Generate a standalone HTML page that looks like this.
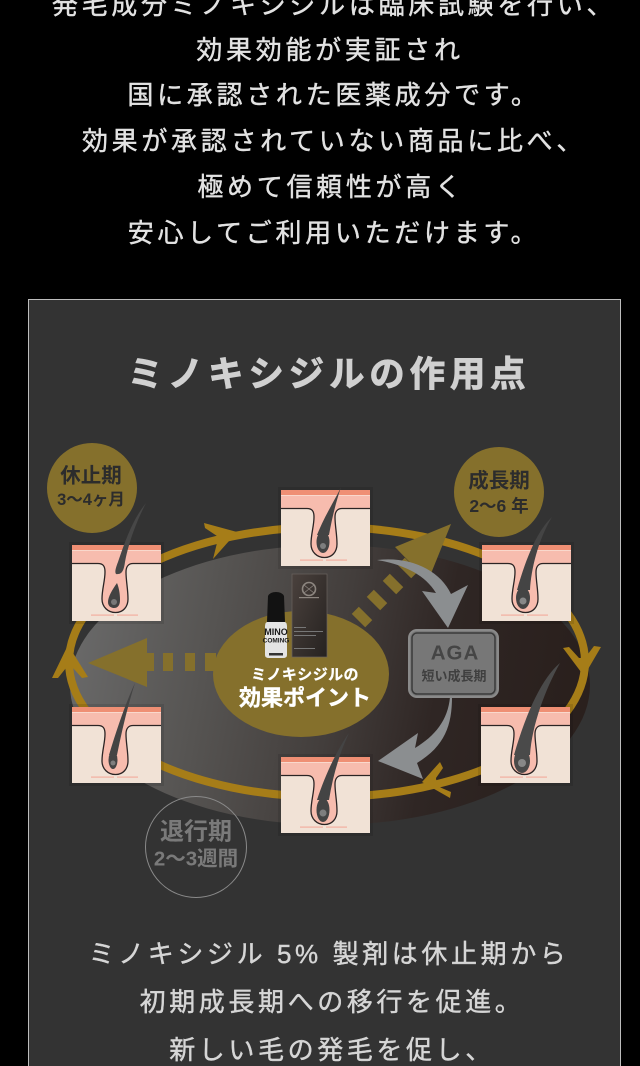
<!DOCTYPE html>
<html lang="ja"><head><meta charset="utf-8"><style>
html,body{margin:0;padding:0;background:#000;width:640px;height:1066px;overflow:hidden}
svg{display:block;filter:blur(.3px)}
text{font-family:"Liberation Sans","Noto Sans CJK JP",sans-serif;text-anchor:middle}
.t{font-size:26px;letter-spacing:3.7px;fill:#e2e2e2;stroke:#e2e2e2;stroke-width:.4px;dominant-baseline:central}
.b{font-size:26px;letter-spacing:3.6px;fill:#d6d6d6;stroke:#d6d6d6;stroke-width:.4px;dominant-baseline:central}
.c{dominant-baseline:central;font-weight:700}
</style></head><body>
<svg width="640" height="1066" viewBox="0 0 640 1066" xmlns="http://www.w3.org/2000/svg">
<defs>
<linearGradient id="eg" x1="0" y1="0" x2="1" y2="0.1">
<stop offset="0" stop-color="#6c6c6c"/><stop offset=".3" stop-color="#565452"/><stop offset=".55" stop-color="#433e3c"/><stop offset=".75" stop-color="#2f2624"/><stop offset="1" stop-color="#2a201d"/>
</linearGradient>
<linearGradient id="bx" x1="0" y1="0" x2="1" y2="1"><stop offset="0" stop-color="#4a413d"/><stop offset="1" stop-color="#262220"/></linearGradient>
<g id="tile">
<rect x="-3" y="-3" width="95" height="82" fill="#000" opacity=".1"/>
<rect width="89" height="76" fill="#f1e2d6"/>
<rect width="89" height="19" fill="#f7bcae"/>
<rect width="89" height="5" fill="#ef8f74"/>
<rect y="5" width="89" height="1" fill="#f9d8cc"/>
<path d="M0 18.500H26C31 18.500 33 21 33 27C33 36 30 44 30 54C30 62 36 67.500 43.500 67.500C51 67.500 56 62 56 54C56 44 54 36 54 27C54 21 57 18.500 61 18.500H89V16H0Z" fill="#f7bcae"/>
<path d="M0 18.500H26C31 18.500 33 21 33 27C33 36 30 44 30 54C30 62 36 67.500 43.500 67.500C51 67.500 56 62 56 54C56 44 54 36 54 27C54 21 57 18.500 61 18.500H89" fill="none" stroke="#2b2424" stroke-width="1.300"/>
<rect x="19" y="69.500" width="23" height="1.200" fill="#f2aea0"/><rect x="45" y="69.500" width="21" height="1.200" fill="#f2aea0"/>
</g>
</defs>
<rect width="640" height="1066" fill="#000"/>
<text class="t" x="334" y="5">発毛成分ミノキシジルは臨床試験を行い、</text>
<text class="t" x="330" y="50">効果効能が実証され</text>
<text class="t" x="334" y="95">国に承認された医薬成分です。</text>
<text class="t" x="334" y="141">効果が承認されていない商品に比べ、</text>
<text class="t" x="331" y="187">極めて信頼性が高く</text>
<text class="t" x="334" y="233">安心してご利用いただけます。</text>

<rect x="28.500" y="299.500" width="592" height="780" fill="#333333" stroke="#bdbdbd" stroke-width="1"/>
<text x="329" y="374" font-size="35.500" font-weight="700" letter-spacing="4.800" fill="#d0d0d0" stroke="#d0d0d0" stroke-width=".8" dominant-baseline="central">ミノキシジルの作用点</text>

<!-- dark ellipse -->
<ellipse cx="330" cy="685" rx="260" ry="140" fill="url(#eg)"/>
<!-- gold ring -->
<ellipse cx="327" cy="662" rx="258" ry="135" fill="none" stroke="#a67d18" stroke-width="8"/>
<!-- ring arrowheads -->
<g fill="#a67d18">
<path d="M204 523L237 532L213 559L217 543L217 536L205 528Z"/>
<path d="M563 648L569 647L579 658L585 658L594 646L601 647L584 676Z"/>
<path d="M422 782L440 762L443 768L436 778L437 786L451 792L450 798Z"/>
<path d="M68 645L88 677L82 678L73 668L66 668L58 678L52 678Z"/>
</g>

<!-- center ellipse -->
<ellipse cx="301" cy="674" rx="88" ry="63" fill="#85702c"/>
<!-- dashed arrows -->
<g fill="#85702c">
<path d="M88 663L147 638V687Z"/>
<rect x="144" y="653" width="10" height="18"/><rect x="163" y="653" width="10" height="18"/><rect x="185" y="653" width="10" height="18"/><rect x="205" y="653" width="11" height="18"/>
<path d="M451 524L395 547L428 581Z"/>
<g transform="rotate(-45 408 568)"><rect x="403" y="558.500" width="10" height="19"/></g>
<g transform="rotate(-45 393 584)"><rect x="388" y="574.500" width="10" height="19"/></g>
<g transform="rotate(-45 377 600)"><rect x="372" y="590.500" width="10" height="19"/></g>
<g transform="rotate(-45 362 617)"><rect x="357" y="607.500" width="10" height="19"/></g>
</g>

<!-- gray arrows -->
<g fill="#8b8e90">
<path d="M377 560C405 565 425 575 436 593L422 591L448 628L468 585L451 594C440 570 410 556 377 560Z"/>
<path d="M450 697C448 720 435 736 415 748L418 733L378 761L423 779L417 763C445 746 452 725 452 697Z"/>
</g>
<!-- AGA box -->
<rect x="409" y="630" width="89" height="67" rx="8" fill="#7a7a7a" stroke="#8a8a8a" stroke-width="2"/>
<rect x="412" y="633" width="83" height="61" rx="5" fill="#777" stroke="#3a3a3a" stroke-width="1.500"/>
<text class="c" x="455" y="653" font-size="20.500" letter-spacing="1" fill="#454545" style="font-family:'Liberation Sans',sans-serif">AGA</text>
<text class="c" x="454" y="676" font-size="13" fill="#3f3f3f">短い成長期</text>

<!-- tiles -->
<use href="#tile" x="72" y="545"/>
<path d="M146 503C135 517 128 532 118 562C114 572 115 575 118 574C122 574 124 570 125 562C128 545 136 522 146 503Z" fill="#474747"/>
<path d="M117 583C112 590 108 597 108 602C108 607 112 608 114 608C118 608 120 605 120 600C120 594 119 588 117 583Z" fill="#424242"/>
<circle cx="114" cy="602" r="3" fill="#787878"/>

<use href="#tile" x="281" y="490"/>
<path d="M341 487C335 500 325 515 317 535L329 535C332 518 336 502 341 487Z" fill="#444"/>
<ellipse cx="323" cy="542" rx="6.500" ry="11" fill="#444"/>
<circle cx="323" cy="546" r="3" fill="#7e7e7e"/>

<use href="#tile" x="482" y="545"/>
<path d="M552 517C538 530 527 555 517 590L530 590C531 570 538 540 552 517Z" fill="#444"/>
<ellipse cx="523" cy="598" rx="7" ry="11" fill="#444"/>
<circle cx="523" cy="601" r="3.500" fill="#888"/>

<use href="#tile" x="481" y="707"/>
<path d="M560 663C543 677 527 710 514 755L530 755C532 725 545 690 560 663Z" fill="#4a4a4a"/>
<ellipse cx="522" cy="761" rx="8" ry="12" fill="#4a4a4a"/>
<circle cx="522" cy="763" r="4" fill="#888"/>

<use href="#tile" x="72" y="707"/>
<path d="M135 683C127 700 118 725 109 755L117 755C122 730 128 705 135 683Z" fill="#444"/>
<ellipse cx="113" cy="760" rx="4.500" ry="9" fill="#444"/>
<circle cx="113" cy="763" r="2.500" fill="#7e7e7e"/>

<use href="#tile" x="281" y="757"/>
<path d="M349 733C338 748 325 775 317 800L329 800C333 775 340 752 349 733Z" fill="#444"/>
<ellipse cx="323" cy="810" rx="6.500" ry="12" fill="#444"/>
<circle cx="323" cy="813" r="3.500" fill="#7e7e7e"/>

<!-- product -->
<rect x="292" y="574" width="35" height="83" fill="url(#bx)" stroke="#6a635e" stroke-width=".7"/>
<circle cx="309" cy="589" r="6.500" fill="none" stroke="#8d8680" stroke-width="1.600"/>
<path d="M304 585L314 593M304 593L314 585" stroke="#8d8680" stroke-width=".8"/>
<rect x="299" y="597" width="20" height="1.200" fill="#8d8680"/>
<rect x="294" y="627" width="12" height="1" fill="#777"/><rect x="294" y="631" width="29" height="1" fill="#777"/><rect x="294" y="635" width="22" height="1" fill="#777"/><rect x="294" y="648" width="21" height="1" fill="#777"/>
<path d="M265 626Q265 622 269 621H283Q287 622 287 626V655Q287 658 283 658H269Q265 658 265 655Z" fill="#e4e4e4"/>
<path d="M267 622L268 596Q270 592 276 592Q282 592 284 596L285 622Z" fill="#121212"/>
<text x="276" y="632" font-size="9" font-weight="700" fill="#1a1a1a" dominant-baseline="central" style="font-family:'Liberation Sans',sans-serif">MINO</text>
<text x="276" y="641" font-size="6.500" font-weight="700" fill="#1a1a1a" dominant-baseline="central" style="font-family:'Liberation Sans',sans-serif">COMING</text>
<rect x="269" y="653" width="14" height="2.500" fill="#333"/>

<text class="c" x="305" y="675" font-size="15" letter-spacing=".4" fill="#fff" stroke="#fff" stroke-width=".3">ミノキシジルの</text>
<text class="c" x="305" y="698" font-size="22" fill="#fff" stroke="#fff" stroke-width=".4">効果ポイント</text>

<!-- badges -->
<circle cx="92" cy="488" r="45" fill="#85702c"/>
<text class="c" x="91" y="476" font-size="20.500" fill="#2c2c2c">休止期</text>
<text class="c" x="91" y="500" font-size="16.500" fill="#2c2c2c">3〜4ヶ月</text>
<circle cx="499" cy="492" r="45" fill="#85702c"/>
<text class="c" x="499" y="481" font-size="20.500" fill="#2c2c2c">成長期</text>
<text class="c" x="499" y="506" font-size="17.500" fill="#2c2c2c">2〜6 年</text>
<circle cx="196" cy="847" r="50.500" fill="none" stroke="#8a8a8a" stroke-width="1"/>
<text class="c" x="196" y="832" font-size="24" fill="#7a7a7a">退行期</text>
<text class="c" x="196" y="859" font-size="20.500" fill="#7a7a7a">2〜3週間</text>

<text class="b" x="329" y="954">ミノキシジル 5% 製剤は休止期から</text>
<text class="b" x="332" y="1002">初期成長期への移行を促進。</text>
<text class="b" x="332" y="1050">新しい毛の発毛を促し、</text>
</svg>
</body></html>
